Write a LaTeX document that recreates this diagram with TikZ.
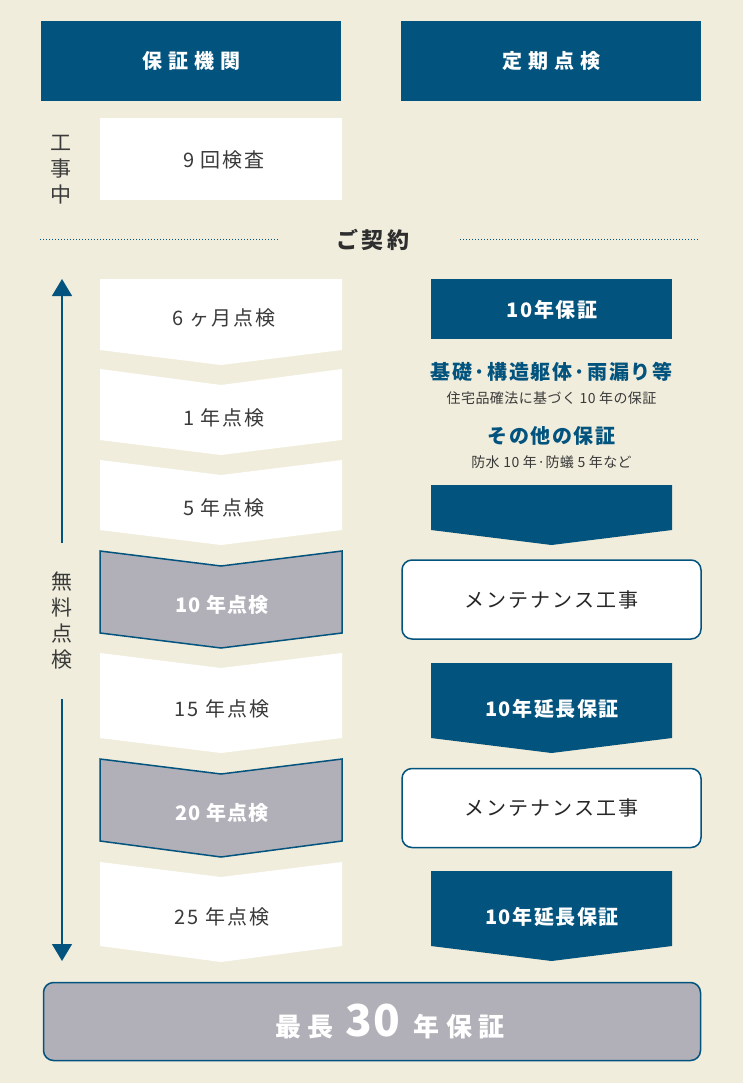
\documentclass[tikz,border=0pt]{standalone}
\usepackage{fontspec}
\setmainfont{Noto Sans CJK JP}
\usetikzlibrary{arrows.meta}

\definecolor{beige}{HTML}{F0EDDC}
\definecolor{navy}{HTML}{02537E}
\definecolor{stone}{HTML}{B1B0B8}
\definecolor{ink}{HTML}{3A3A3A}

\begin{document}
\begin{tikzpicture}[x=1pt,y=-1pt,
    txt/.style={font=\fontsize{20}{24}\selectfont\addfontfeature{LetterSpace=10}, text=ink, inner sep=0pt},
    boldtxt/.style={font=\fontsize{20}{24}\selectfont\bfseries\addfontfeature{LetterSpace=8}, inner sep=0pt},
    headbox/.style={fill=navy, text=white, minimum width=300, minimum height=80, inner sep=0pt,
        font=\fontsize{20}{24}\selectfont\bfseries\addfontfeature{LetterSpace=30}},
    maintbox/.style={draw=navy, line width=1.5, fill=white, rounded corners=10, minimum width=299,
        minimum height=79, text=black!85, font=\fontsize{20}{24}\selectfont\addfontfeature{LetterSpace=10}},
    chevwhite/.style={fill=white},
    chevgray/.style={fill=stone, draw=navy, line width=1.5},
    vtext/.style={font=\fontsize{21}{26}\selectfont, text=ink, align=center, inner xsep=0pt}
  ]
    % Canvas
    \fill[beige] (0,0) rectangle (743,1083);
    \useasboundingbox (0,0) rectangle (743,1083);

    % Column x positions
    \def\lx{100} \def\rx{342} \def\mx{221}
    \def\blx{431} \def\brx{672} \def\bmx{551.5}

    % Headers
    \node[headbox] (head1) at (191,61) {保証機関};
    \node[headbox] (head2) at (551,61) {定期点検};

    % During construction
    \node[fill=white, minimum width=242, minimum height=82, inner sep=0pt] (ninebox) at (221,159) {};
    \node[txt] (nine) at (224,160) {9 回検査};
    \node[vtext] (koji) at (61,170) {工\\事\\中};

    % Contract line
    \draw[navy, line width=1, dash pattern=on 1pt off 2pt] (40,240) -- (278,240);
    \draw[navy, line width=1, dash pattern=on 1pt off 2pt] (460,240) -- (698,240);
    \node[font=\fontsize{22}{26}\selectfont\bfseries\addfontfeature{LetterSpace=16}, text=ink!80!black] (keiyaku) at (373,240) {ご契約};

    % Left column chevrons
    \fill[chevwhite] (\lx,279) -- (\rx,279) -- (\rx,350) -- (\mx,365) -- (\lx,350) -- cycle;
    \fill[chevwhite] (\lx,369) -- (\mx,385) -- (\rx,369) -- (\rx,440) -- (\mx,455) -- (\lx,440) -- cycle;
    \fill[chevwhite] (\lx,460) -- (\mx,475) -- (\rx,460) -- (\rx,530) -- (\mx,545) -- (\lx,530) -- cycle;
    \draw[chevgray] (\lx,551) -- (\mx,566) -- (\rx,551) -- (\rx,633) -- (\mx,648) -- (\lx,633) -- cycle;
    \fill[chevwhite] (\lx,653) -- (\mx,668) -- (\rx,653) -- (\rx,738) -- (\mx,753) -- (\lx,738) -- cycle;
    \draw[chevgray] (\lx,759) -- (\mx,774) -- (\rx,759) -- (\rx,841) -- (\mx,857) -- (\lx,841) -- cycle;
    \fill[chevwhite] (\lx,862) -- (\mx,877) -- (\rx,862) -- (\rx,946) -- (\mx,962) -- (\lx,946) -- cycle;

    \node[txt] (m6) at (224,318) {6 ヶ月点検};
    \node[txt] (y1) at (224,418) {1 年点検};
    \node[txt] (y5) at (224,508) {5 年点検};
    \node[txt, text=white, font=\fontsize{20}{24}\selectfont\bfseries\addfontfeature{LetterSpace=6}] (y10) at (222,605) {10 年点検};
    \node[txt] (y15) at (222,709) {15 年点検};
    \node[txt, text=white, font=\fontsize{20}{24}\selectfont\bfseries\addfontfeature{LetterSpace=6}] (y20) at (222,813) {20 年点検};
    \node[txt] (y25) at (222,917) {25 年点検};

    % Free inspection arrow
    \coordinate (arrTop) at (62,279);
    \coordinate (arrBot) at (62,961);
    \node[vtext, inner ysep=29pt] (free) at (62,621) {無\\料\\点\\検};
    \draw[navy, line width=1.5, -{Triangle[width=20pt,length=17pt]}] (free) -- (arrTop);
    \draw[navy, line width=1.5, -{Triangle[width=20pt,length=17pt]}] (free) -- (arrBot);

    % Right column: 10 year warranty
    \node[fill=navy, minimum width=241, minimum height=60, inner sep=0pt] (hoshobox) at (\bmx,309) {};
    \node[boldtxt, text=white] (hosho) at (552,310) {10年保証};
    \node[boldtxt, text=navy] (kiso) at (\bmx,372) {基礎·構造躯体·雨漏り等};
    \node[txt, font=\fontsize{14}{17}\selectfont\addfontfeature{LetterSpace=3}] (kisosub) at (\bmx,398) {住宅品確法に基づく 10 年の保証};
    \node[boldtxt, text=navy] (sonota) at (\bmx,436) {その他の保証};
    \node[txt, font=\fontsize{14}{17}\selectfont\addfontfeature{LetterSpace=3}] (sonotasub) at (\bmx,462) {防水 10 年·防蟻 5 年など};
    \fill[navy] (\blx,485) -- (\brx,485) -- (\brx,530) -- (\bmx,545) -- (\blx,530) -- cycle;

    % Maintenance and extensions
    \node[maintbox] (maint1) at (551.5,599.5) {メンテナンス工事};
    \fill[navy] (\blx,663) -- (\brx,663) -- (\brx,738) -- (\bmx,753) -- (\blx,738) -- cycle;
    \node[boldtxt, text=white] (ext1) at (552,709) {10年延長保証};
    \node[maintbox] (maint2) at (551.5,808) {メンテナンス工事};
    \fill[navy] (\blx,871) -- (\brx,871) -- (\brx,946) -- (\bmx,961) -- (\blx,946) -- cycle;
    \node[boldtxt, text=white] (ext2) at (552,917) {10年延長保証};

    % Total
    \node[fill=stone, draw=navy, line width=1.5, rounded corners=10, minimum width=657, minimum height=78,
        inner sep=0pt] (total) at (372,1021.5) {};
    \node[text=white, font=\bfseries, inner sep=0pt] (totaltxt) at (390,1021.5)
        {\fontsize{26}{30}\selectfont\addfontfeature{LetterSpace=25}最長\hspace{12pt}{\fontsize{44}{48}\selectfont\addfontfeature{LetterSpace=2}30}\hspace{14pt}年保証};
\end{tikzpicture}
\end{document}
